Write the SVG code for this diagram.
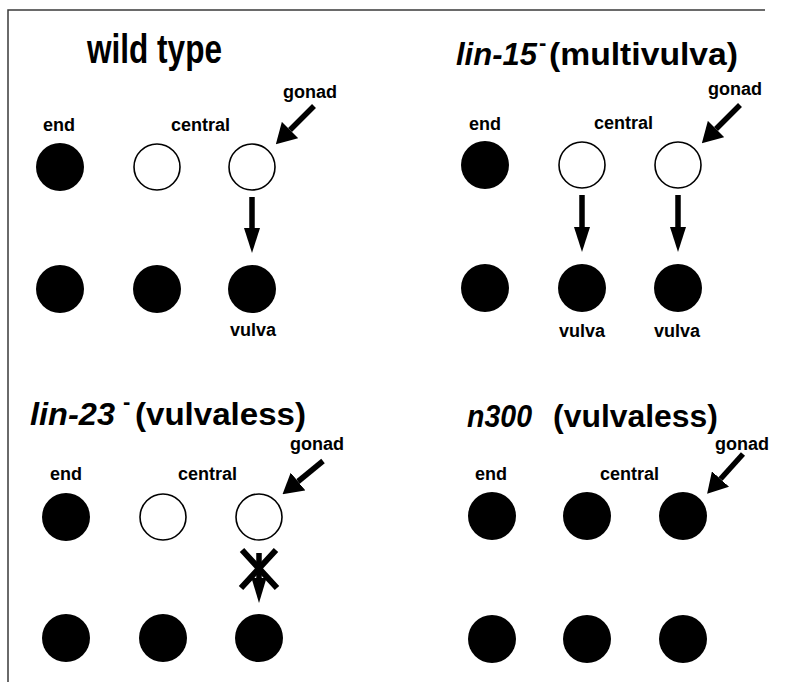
<svg xmlns="http://www.w3.org/2000/svg" width="792" height="682" viewBox="0 0 792 682">
<style>
text{font-family:"Liberation Sans",Arial,Helvetica,sans-serif;font-weight:bold;fill:#000}
.t{font-size:32px}
.l{font-size:18px}
.f{fill:#000}
.o{fill:#fff;stroke:#000;stroke-width:1.6}
.sh{stroke:#000;stroke-width:5.5;fill:none}
.x{stroke:#000;stroke-width:6;fill:none}
.frame{stroke:#3a3a3a;stroke-width:1.5;fill:none}
</style>
<defs>
<marker id="hv" viewBox="0 0 25 16" refX="0" refY="8" markerWidth="25" markerHeight="16" markerUnits="userSpaceOnUse" orient="auto"><path d="M0,0 L25,8 L0,16 z" fill="#000"/></marker>
<marker id="hs" viewBox="0 0 25 15" refX="0" refY="7.5" markerWidth="25" markerHeight="15" markerUnits="userSpaceOnUse" orient="auto"><path d="M0,0 L25,7.5 L0,15 z" fill="#000"/></marker>
<marker id="hg" viewBox="0 0 20 23" refX="0" refY="11.5" markerWidth="20" markerHeight="23" markerUnits="userSpaceOnUse" orient="auto"><path d="M0,0 L20,11.5 L0,23 z" fill="#000"/></marker>
</defs>
<rect width="792" height="682" fill="#fff"/>
<path class="frame" d="M8,682 L8,10 L765,10"/>

<g id="panel-wildtype">
<text class="t" x="87" y="63" font-size="40" style="font-size:40px" textLength="135" lengthAdjust="spacingAndGlyphs">wild type</text>
<text class="l" x="283" y="98">gonad</text>
<text class="l" x="43" y="131">end</text>
<text class="l" x="171" y="131">central</text>
<text class="l" x="253" y="336" text-anchor="middle">vulva</text>
</g>
<g id="wt-p1"><circle class="f" cx="60" cy="167" r="24"/></g>
<g id="wt-p2"><circle class="o" cx="157" cy="167" r="23"/></g>
<g id="wt-p3"><circle class="o" cx="252" cy="167" r="23"/></g>
<g id="wt-d1"><circle class="f" cx="60" cy="289" r="24"/></g>
<g id="wt-d2"><circle class="f" cx="157" cy="289" r="24"/></g>
<g id="wt-d3"><circle class="f" cx="252" cy="289" r="24"/></g>

<g id="panel-lin15">
<text class="t" y="65"><tspan x="456" font-style="italic" textLength="81" lengthAdjust="spacingAndGlyphs">lin-15</tspan><tspan x="539" y="50" style="font-size:22px">-</tspan><tspan x="549" y="65" textLength="189" lengthAdjust="spacingAndGlyphs">(multivulva)</tspan></text>
<text class="l" x="708" y="95">gonad</text>
<text class="l" x="469" y="130">end</text>
<text class="l" x="594" y="129">central</text>
<text class="l" x="582" y="337" text-anchor="middle">vulva</text>
<text class="l" x="677" y="337" text-anchor="middle">vulva</text>
</g>
<g id="l15-p1"><circle class="f" cx="485" cy="165" r="24"/></g>
<g id="l15-p2"><circle class="o" cx="582" cy="165" r="23"/></g>
<g id="l15-p3"><circle class="o" cx="678" cy="165" r="23"/></g>
<g id="l15-d1"><circle class="f" cx="485" cy="288" r="24"/></g>
<g id="l15-d2"><circle class="f" cx="582" cy="288" r="24"/></g>
<g id="l15-d3"><circle class="f" cx="678" cy="288" r="24"/></g>

<g id="panel-lin23">
<text class="t" y="425"><tspan x="30" font-style="italic" textLength="85" lengthAdjust="spacingAndGlyphs">lin-23</tspan><tspan x="123" y="409" style="font-size:22px">-</tspan><tspan x="135" y="425" textLength="171" lengthAdjust="spacingAndGlyphs">(vulvaless)</tspan></text>
<text class="l" x="290" y="450">gonad</text>
<text class="l" x="50" y="480">end</text>
<text class="l" x="178" y="480">central</text>
</g>
<g id="l23-p1"><circle class="f" cx="66" cy="517" r="24"/></g>
<g id="l23-p2"><circle class="o" cx="163" cy="517" r="23"/></g>
<g id="l23-p3"><circle class="o" cx="259" cy="517" r="23"/></g>
<g id="l23-d1"><circle class="f" cx="66" cy="638" r="24"/></g>
<g id="l23-d2"><circle class="f" cx="163" cy="638" r="24"/></g>
<g id="l23-d3"><circle class="f" cx="259" cy="638" r="24"/></g>

<g id="panel-n300">
<text class="t" y="427"><tspan x="467" font-style="italic" textLength="65" lengthAdjust="spacingAndGlyphs">n300</tspan><tspan x="553" textLength="165" lengthAdjust="spacingAndGlyphs">(vulvaless)</tspan></text>
<text class="l" x="715" y="450">gonad</text>
<text class="l" x="475" y="480">end</text>
<text class="l" x="600" y="480">central</text>
</g>
<g id="n3-p1"><circle class="f" cx="492" cy="516" r="24"/></g>
<g id="n3-p2"><circle class="f" cx="587" cy="516" r="24"/></g>
<g id="n3-p3"><circle class="f" cx="683" cy="516" r="24"/></g>
<g id="n3-d1"><circle class="f" cx="492" cy="639" r="24"/></g>
<g id="n3-d2"><circle class="f" cx="587" cy="639" r="24"/></g>
<g id="n3-d3"><circle class="f" cx="683" cy="639" r="24"/></g>

<g id="connectors">
<line class="sh" x1="252" y1="197" x2="252" y2="228" marker-end="url(#hv)"/>
<line class="sh" x1="582" y1="195" x2="582" y2="227" marker-end="url(#hv)"/>
<line class="sh" x1="678" y1="195" x2="678" y2="227" marker-end="url(#hv)"/>
<line class="sh" x1="259" y1="553" x2="259" y2="578" marker-end="url(#hs)"/>
<path class="x" d="M242,550 L277,588 M276,550 L241,588"/>
<line class="sh" x1="314" y1="106" x2="290" y2="130" marker-end="url(#hg)"/>
<line class="sh" x1="740" y1="105" x2="716" y2="129" marker-end="url(#hg)"/>
<line class="sh" x1="323" y1="461" x2="298" y2="481.5" marker-end="url(#hg)"/>
<line class="sh" x1="743" y1="454" x2="720.5" y2="479" marker-end="url(#hg)"/>
</g>
</svg>
